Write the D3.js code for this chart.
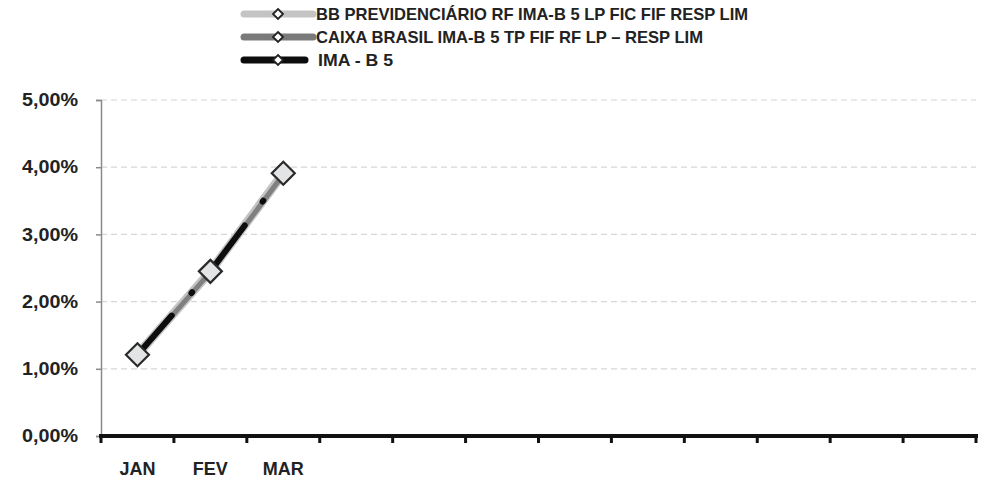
<!DOCTYPE html>
<html>
<head>
<meta charset="utf-8">
<script src="https://cdn.jsdelivr.net/npm/d3@7"></script>
<style>
  html, body { margin: 0; padding: 0; background: #ffffff; }
  svg { display: block; }
  text { font-family: "Liberation Sans", Arial, sans-serif; font-weight: bold; fill: #222; }
</style>
</head>
<body>
<svg id="chart" width="990" height="480"></svg>
<script>
// ---- data ----
const categories = ["JAN","FEV","MAR","ABR","MAI","JUN","JUL","AGO","SET","OUT","NOV","DEZ"];
const tickLabels = ["JAN","FEV","MAR","","","","","","","","",""];
const seriesNames = [
  "BB PREVIDENCIÁRIO RF IMA-B 5 LP FIC FIF RESP LIM",
  "CAIXA BRASIL IMA-B 5 TP FIF RF LP – RESP LIM",
  "IMA - B 5"
];
const bbValues    = [1.21, 2.45, 3.91];
const caixaValues = [1.20, 2.44, 3.89];
const imaValues   = [1.21, 2.45, 3.90];
const yTicks = [0, 1, 2, 3, 4, 5];

// ---- layout ----
const svg = d3.select("#chart");
const x0 = 101, x1 = 976, yBottom = 436, yTop = 100;

const x = d3.scaleBand().domain(categories).range([x0, x1]).paddingInner(0).paddingOuter(0);
const y = d3.scaleLinear().domain([0, 5]).range([yBottom, yTop]);
const fmt = v => d3.format(".2f")(v).replace(".", ",") + "%";

// gridlines
svg.append("g")
  .selectAll("line")
  .data(yTicks.filter(d => d > 0))
  .join("line")
  .attr("x1", x0).attr("x2", x1)
  .attr("y1", d => y(d)).attr("y2", d => y(d))
  .attr("stroke", "#d6d6d6").attr("stroke-width", 1.2)
  .attr("stroke-dasharray", "6,4");

// y axis
const yAxis = svg.append("g")
  .attr("transform", `translate(${x0},0)`)
  .call(d3.axisLeft(y).tickValues(yTicks).tickFormat(fmt).tickSize(5).tickPadding(18));
yAxis.select(".domain").attr("stroke", "#8a8a8a").attr("stroke-width", 1.5);
yAxis.selectAll(".tick line").attr("stroke", "#8a8a8a").attr("stroke-width", 1.5);
yAxis.selectAll(".tick text")
  .style("font-size", "18px").style("font-family", "'Liberation Sans', Arial, sans-serif")
  .style("font-weight", "bold").attr("fill", "#222")
  .attr("textLength", 56).attr("lengthAdjust", "spacingAndGlyphs");

// x axis (ticks at band boundaries)
const xg = svg.append("g");
xg.append("line")
  .attr("x1", x0 - 2).attr("x2", x1 + 2)
  .attr("y1", yBottom).attr("y2", yBottom)
  .attr("stroke", "#111").attr("stroke-width", 4);
const bounds = categories.map(c => x(c)).concat([x(categories[categories.length - 1]) + x.bandwidth()]);
xg.selectAll("line.tk")
  .data(bounds)
  .join("line")
  .attr("class", "tk")
  .attr("x1", d => d).attr("x2", d => d)
  .attr("y1", yBottom).attr("y2", yBottom + 7)
  .attr("stroke", "#111").attr("stroke-width", 3);
xg.selectAll("text")
  .data(categories)
  .join("text")
  .attr("x", d => x(d) + x.bandwidth() / 2)
  .attr("y", 475)
  .attr("text-anchor", "middle")
  .style("font-size", "18px")
  .text((d, i) => tickLabels[i]);

// lines
const line = d3.line()
  .x((d, i) => x(categories[i]) + x.bandwidth() / 2)
  .y(d => y(d));

svg.append("path").datum(bbValues).attr("d", line)
  .attr("fill", "none").attr("stroke", "#c4c4c4").attr("stroke-width", 9);
svg.append("path").datum(caixaValues).attr("d", line)
  .attr("fill", "none").attr("stroke", "#808080").attr("stroke-width", 5);
svg.append("path").datum(imaValues).attr("d", line)
  .attr("fill", "none").attr("stroke", "#0d0d0d").attr("stroke-width", 6)
  .attr("stroke-linecap", "round").attr("stroke-dasharray", "52,30,1,33");

// markers (BB series)
const diamond = (cx, cy, r) => `M${cx},${cy - r}L${cx + r},${cy}L${cx},${cy + r}L${cx - r},${cy}Z`;
svg.append("g").selectAll("path")
  .data(bbValues)
  .join("path")
  .attr("d", (d, i) => diamond(x(categories[i]) + x.bandwidth() / 2, y(d), 11.5))
  .attr("fill", "#e2e4e6").attr("stroke", "#2a2a2a").attr("stroke-width", 2.2);

// legend
const legendColors = ["#c4c4c4", "#7a7a7a", "#0d0d0d"];
const legendRows = [
  { yb: 20, lx2: 313, tx: 316, tl: 432 },
  { yb: 43, lx2: 313, tx: 316, tl: 387 },
  { yb: 66, lx2: 305, tx: 318, tl: 75 }
];
const lg = svg.append("g");
seriesNames.forEach((name, i) => {
  const r = legendRows[i];
  const ly = r.yb - 6;
  lg.append("line")
    .attr("x1", 244).attr("x2", r.lx2)
    .attr("y1", ly).attr("y2", ly)
    .attr("stroke", legendColors[i]).attr("stroke-width", 7)
    .attr("stroke-linecap", "round");
  lg.append("path")
    .attr("d", diamond(278, ly, 5))
    .attr("fill", "#ffffff").attr("stroke", "#222").attr("stroke-width", 1.8);
  lg.append("text")
    .attr("x", r.tx).attr("y", r.yb)
    .style("font-size", "17px")
    .attr("textLength", r.tl).attr("lengthAdjust", "spacingAndGlyphs")
    .text(name);
});
</script>
</body>
</html>
